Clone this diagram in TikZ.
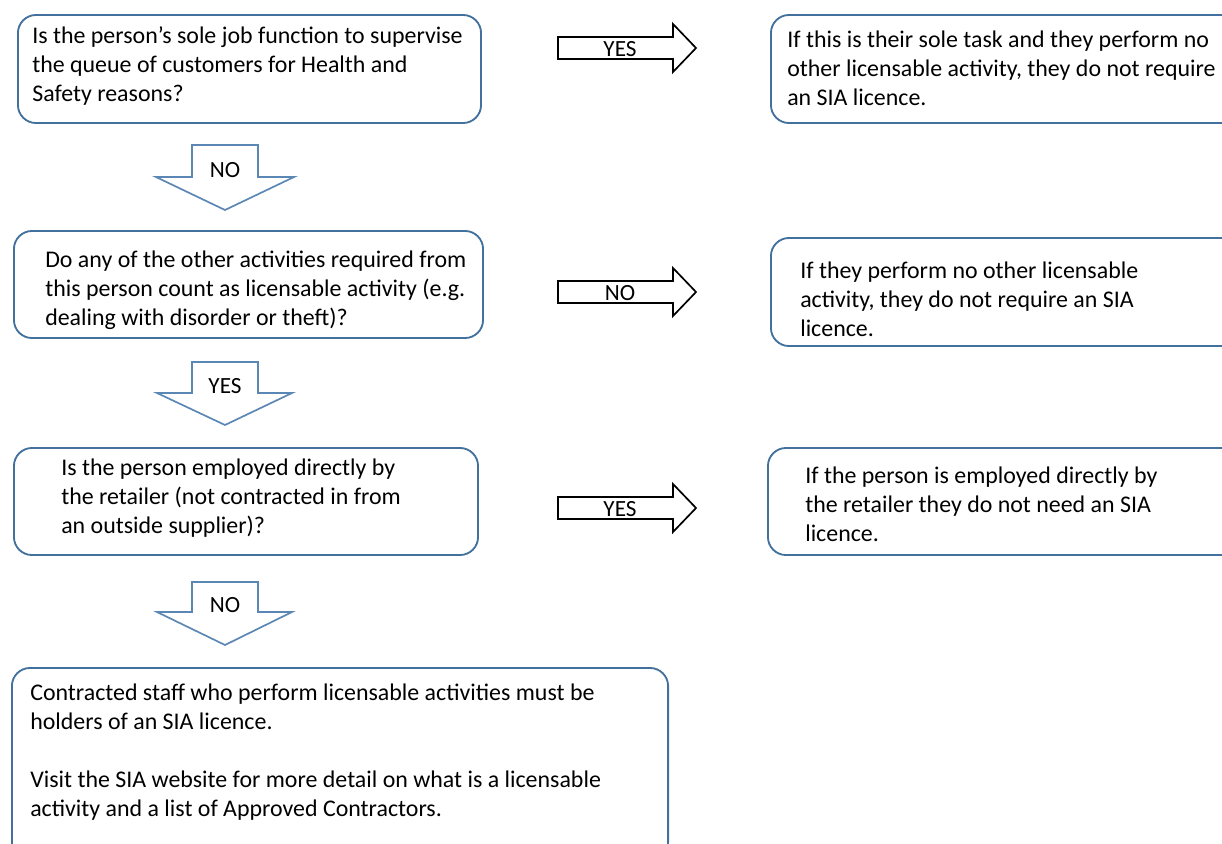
\documentclass[tikz,border=0pt]{standalone}
\usepackage{fontspec}
\setmainfont{Carlito}
\usepackage{tikz}
\usepackage{xcolor}
\usetikzlibrary{positioning,calc}
\definecolor{boxblue}{RGB}{65,113,156}
\definecolor{arrowblue}{RGB}{91,135,181}

\tikzset{
    qbox/.style={draw=boxblue, line width=1.3pt, rounded corners=0.45cm, fill=white, inner sep=0pt},
    qtext/.style={anchor=west, inner sep=0pt, align=left, font=\fontsize{17}{20.6}\selectfont},
    albl/.style={inner sep=0pt, font=\fontsize{16.5}{18}\selectfont}
}

\begin{document}
\begin{tikzpicture}[x=0.025cm, y=-0.025cm]
    \useasboundingbox (0,0) rectangle (1222,843);
    \clip (0,0) rectangle (1222,843);

    % Question boxes (left column)
    \node[qbox, minimum width=11.575cm, minimum height=2.7cm] (q1) at (249.5,69) {};
    \node[qtext] (q1t) at (32,66) {Is the person’s sole job function to supervise\\the queue of customers for Health and\\Safety reasons?};

    \node[qbox, minimum width=11.725cm, minimum height=2.675cm] (q2) at (248.5,284.5) {};
    \node[qtext] (q2t) at (45,290) {Do any of the other activities required from\\this person count as licensable activity (e.g.\\dealing with disorder or theft)?};

    \node[qbox, minimum width=11.6cm, minimum height=2.675cm] (q3) at (246,501.5) {};
    \node[qtext] (q3t) at (61,498) {Is the person employed directly by\\the retailer (not contracted in from\\an outside supplier)?};

    \node[qbox, minimum width=16.4cm, minimum height=4.8cm] (q4) at (340,764) {};
    \node[qtext] (q4t) at (30,752.5) {Contracted staff who perform licensable activities must be\\holders of an SIA licence.\\[20.6pt]Visit the SIA website for more detail on what is a licensable\\activity and a list of Approved Contractors.};

    % Answer boxes (right column)
    \node[qbox, minimum width=11.725cm, minimum height=2.7cm] (r1) at (1005.5,69) {};
    \node[qtext] (r1t) at (787,68) {If this is their sole task and they perform no\\other licensable activity, they do not require\\an SIA licence.};

    \node[qbox, minimum width=11.725cm, minimum height=2.7cm] (r2) at (1005.5,292) {};
    \node[qtext] (r2t) at (800,299) {If they perform no other licensable\\activity, they do not require an SIA\\licence.};

    \node[qbox, minimum width=11.8cm, minimum height=2.675cm] (r3) at (1004,501.5) {};
    \node[qtext] (r3t) at (805,504) {If the person is employed directly by\\the retailer they do not need an SIA\\licence.};

    % Right block arrows
    \draw[line width=1.2pt, fill=white, line join=miter]
        (558,37) -- (673,37) -- (673,24) -- (696,48) -- (673,72) -- (673,59) -- (558,59) -- cycle;
    \node[albl] (a1) at (620,49) {YES};

    \draw[line width=1.2pt, fill=white, line join=miter]
        (558,281) -- (673,281) -- (673,268) -- (696,292) -- (673,316) -- (673,303) -- (558,303) -- cycle;
    \node[albl] (a2) at (620,293) {NO};

    \draw[line width=1.2pt, fill=white, line join=miter]
        (558,497) -- (673,497) -- (673,484) -- (696,508) -- (673,532) -- (673,519) -- (558,519) -- cycle;
    \node[albl] (a3) at (620,509) {YES};

    % Down block arrows
    \draw[arrowblue, line width=1.2pt, fill=white, line join=miter]
        (192,145) -- (258,145) -- (258,177) -- (294,177) -- (225,210) -- (156,177) -- (192,177) -- cycle;
    \node[albl] (d1) at (225,170) {NO};

    \draw[arrowblue, line width=1.2pt, fill=white, line join=miter]
        (192,362) -- (258,362) -- (258,393) -- (292,393) -- (225,425) -- (157,393) -- (192,393) -- cycle;
    \node[albl] (d2) at (225,386) {YES};

    \draw[arrowblue, line width=1.2pt, fill=white, line join=miter]
        (192,582) -- (258,582) -- (258,612) -- (292,612) -- (225,645) -- (157,612) -- (192,612) -- cycle;
    \node[albl] (d3) at (225,605) {NO};
\end{tikzpicture}
\end{document}
